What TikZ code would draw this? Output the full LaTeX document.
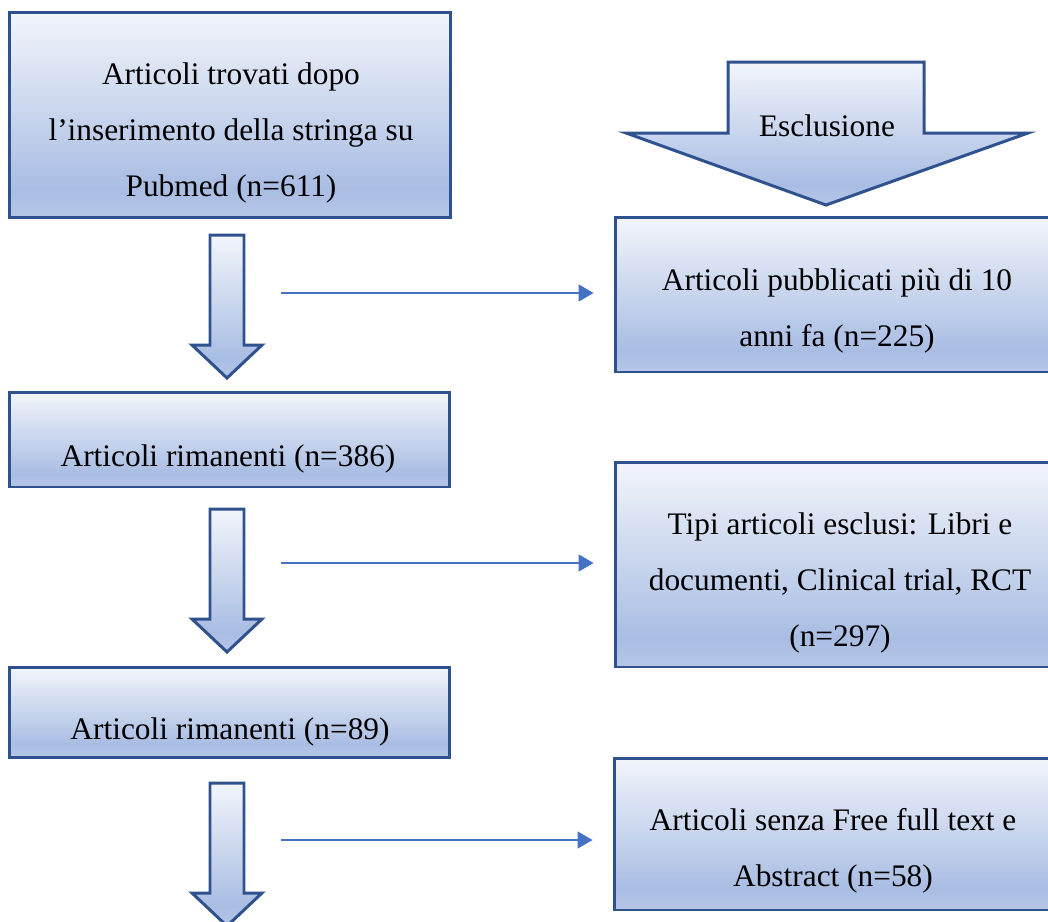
\documentclass[tikz,border=0pt]{standalone}
\usepackage{fontspec}
\setmainfont{Liberation Serif}
\usetikzlibrary{arrows.meta}
\definecolor{edgeblue}{RGB}{47,82,143}
\definecolor{lineblue}{RGB}{68,114,196}
\definecolor{shadetop}{RGB}{242,245,251}
\definecolor{shadelow}{RGB}{169,189,227}
\definecolor{shadebot}{RGB}{182,199,231}
\pgfdeclareverticalshading{wordblue}{100bp}{color(0bp)=(shadebot); color(25bp)=(shadebot);
  color(32bp)=(shadelow); color(75bp)=(shadetop); color(100bp)=(shadetop)}
\tikzset{box/.style = {rectangle, draw = edgeblue, line width = 1.7pt, shading = wordblue, inner sep = 0}}
\tikzset{txt/.style = {align = center, inner sep = 0, anchor = base,
                       font = \fontsize{17.85}{31.6}\selectfont}}
\tikzset{bigarrow/.style = {draw = edgeblue, line width = 1.7pt, shading = wordblue}}
\tikzset{thinarrow/.style = {draw = lineblue, line width = 0.85pt, shorten > = 0.4cm,
                             -{Triangle[length = 0.3cm, width = 0.34cm]}}}

\begin{document}
\begin{tikzpicture}[x = 0.02cm, y = -0.02cm]
    \useasboundingbox (0, 0) rectangle (1048, 921);
    \clip (0, 0) rectangle (1048, 921);

    % left column
    \node [box, minimum width = 8.84cm, minimum height = 4.12cm] (found) at (230, 115) {};
    \node [txt] (found-t) at (231, 196) {Articoli trovati dopo\\l’inserimento della stringa su\\Pubmed (n=611)};
    \node [box, minimum width = 8.82cm, minimum height = 1.9cm] (left1) at (229.5, 439.5) {};
    \node [txt] (left1-t) at (228, 466) {Articoli rimanenti (n=386)};
    \node [box, minimum width = 8.82cm, minimum height = 1.8cm] (left2) at (229.5, 712) {};
    \node [txt] (left2-t) at (230, 739) {Articoli rimanenti (n=89)};

    \foreach \y in {235, 509, 783}
        \draw [bigarrow] (210, \y) -- (244, \y) -- (244, \y + 110) -- (262, \y + 110)
              -- (227, \y + 143) -- (192, \y + 110) -- (210, \y + 110) -- cycle;

    % right column
    \draw [bigarrow] (728, 62) -- (924, 62) -- (924, 133) -- (1028, 133) -- (826, 205)
          -- (626, 133) -- (728, 133) -- cycle;
    \node [txt] (excl) at (827, 136) {Esclusione};

    \node [box, minimum width = 8.92cm, minimum height = 3.1cm] (old) at (838, 294.5) {};
    \node [txt] (old-t) at (837, 346) {Articoli pubblicati più di 10\\anni fa (n=225)};
    \node [box, minimum width = 8.92cm, minimum height = 4.1cm] (types) at (838, 564.5) {};
    \node [txt] (types-t) at (840, 646) {Tipi articoli esclusi: Libri e\\documenti, Clinical trial, RCT\\(n=297)};
    \node [box, minimum width = 8.94cm, minimum height = 3.04cm] (nofree) at (837.5, 834) {};
    \node [txt] (nofree-t) at (833, 886) {Articoli senza Free full text e\\Abstract (n=58)};

    \coordinate (out1) at (281, 293);
    \coordinate (out2) at (281, 563);
    \coordinate (out3) at (281, 840);
    \draw [thinarrow] (out1) -- (out1 -| old.west);
    \draw [thinarrow] (out2) -- (out2 -| types.west);
    \draw [thinarrow] (out3) -- (out3 -| nofree.west);
\end{tikzpicture}
\end{document}
